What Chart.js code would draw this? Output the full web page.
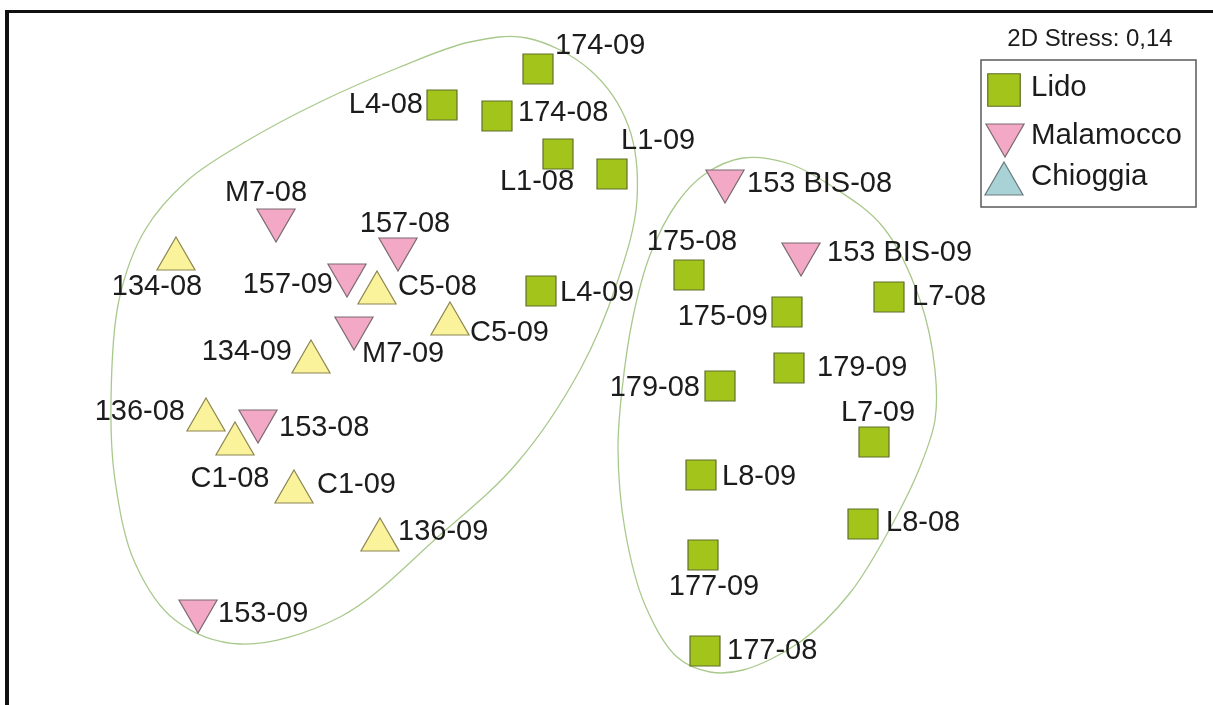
<!DOCTYPE html>
<html>
<head>
<meta charset="utf-8">
<title>nMDS – Lido, Malamocco, Chioggia</title>
<script src="https://cdn.jsdelivr.net/npm/chart.js@4.4.1/dist/chart.umd.min.js"></script>
<style>
  html, body { margin: 0; padding: 0; background: #ffffff; }
  canvas { display: block; }
</style>
</head>
<body>
<canvas id="mds" width="1213" height="705"></canvas>
<script>
// nMDS ordination (2D) of station samples, 2008 and 2009 surveys

// Lido inlet
const lidoNames = ['174-09', 'L4-08', '174-08', 'L1-08', 'L1-09', 'L4-09', '175-08', '175-09',
                   'L7-08', '179-09', '179-08', 'L7-09', 'L8-09', 'L8-08', '177-09', '177-08'];
const lidoX = [-0.62, -1.58, -1.03, -0.42, 0.12, -0.59, 0.89, 1.87, 2.89, 1.89, 1.20, 2.74, 1.01, 2.63, 1.03, 1.05];
const lidoY = [2.81, 2.45, 2.34, 1.96, 1.76, 0.59, 0.75, 0.38, 0.53, -0.18, -0.36, -0.92, -1.25, -1.74, -2.05, -3.01];

// Malamocco inlet
const malamoccoNames = ['153 BIS-08', '153 BIS-09', 'M7-08', '157-08', '157-09', 'M7-09', '153-08', '153-09'];
const malamoccoX = [1.25, 2.01, -3.24, -2.02, -2.53, -2.46, -3.42, -4.02];
const malamoccoY = [1.69, 0.96, 1.30, 1.01, 0.75, 0.22, -0.71, -2.61];

// Chioggia inlet
const chioggiaNames = ['134-08', 'C5-08', 'C5-09', '134-09', '136-08', 'C1-08', 'C1-09', '136-09'];
const chioggiaX = [-4.24, -2.23, -1.50, -2.89, -3.94, -3.65, -3.06, -2.20];
const chioggiaY = [0.91, 0.57, 0.26, -0.12, -0.70, -0.94, -1.42, -1.90];

// Hand-drawn group envelopes (closed outlines, ordination units)
const envelopeAX = [-0.73, -0.10, 0.28, 0.37, 0.17, -0.20, -0.83, -1.60, -2.60, -3.60, -4.25,
                    -4.65, -4.85, -4.89, -4.81, -4.55, -4.12, -3.55, -2.80, -2.00, -1.30];
const envelopeAY = [3.12, 2.80, 2.25, 1.50, 0.67, -0.20, -1.13, -1.85, -2.67, -2.94, -2.70,
                    -2.13, -1.30, -0.50, 0.50, 1.20, 1.70, 2.08, 2.48, 2.83, 3.08];
const envelopeBX = [1.43, 1.87, 2.33, 2.83, 3.20, 3.35, 3.35, 3.20, 2.93, 2.50, 2.00,
                    1.43, 1.10, 0.77, 0.45, 0.25, 0.18, 0.22, 0.33, 0.50, 0.77, 1.05];
const envelopeBY = [1.92, 1.87, 1.63, 1.23, 0.50, -0.20, -0.70, -1.17, -1.73, -2.43, -2.92,
                    -3.20, -3.22, -3.07, -2.55, -1.80, -1.00, -0.40, 0.33, 0.95, 1.47, 1.76];

const stressLabel = '2D Stress: 0,14';
const seriesNames = ['Lido', 'Malamocco', 'Chioggia'];

function toPoints(xs, ys, names) {
  return xs.map((x, i) => ({ x: x, y: ys[i], name: names[i] }));
}

// label anchor: [textAlign, dx, dy] in pixels from the marker centre
const labelAnchor = {
  '174-09': ['left', 17, -23], 'L4-08': ['right', -19, 0], '174-08': ['left', 21, -3],
  'L1-08': ['center', -21, 28], 'L1-09': ['left', 9, -33], 'L4-09': ['left', 19, 2],
  '175-08': ['center', 3, -33], '175-09': ['right', -19, 5], 'L7-08': ['left', 23, 0],
  '179-09': ['left', 28, 0], '179-08': ['right', -20, 2], 'L7-09': ['center', 4, -29],
  'L8-09': ['left', 21, 2], 'L8-08': ['left', 23, -1], '177-09': ['center', 11, 32],
  '177-08': ['left', 22, 0],
  '153 BIS-08': ['left', 22, 3], '153 BIS-09': ['left', 26, -1], 'M7-08': ['center', -10, -27],
  '157-08': ['center', 7, -25], '157-09': ['right', -14, 10], 'M7-09': ['left', 8, 26],
  '153-08': ['left', 21, 7], '153-09': ['left', 20, 3],
  '134-08': ['center', -19, 28], 'C5-08': ['left', 21, -6], 'C5-09': ['left', 20, 9],
  '134-09': ['right', -19, -10], '136-08': ['right', -21, -8], 'C1-08': ['center', -5, 35],
  'C1-09': ['left', 23, -7], '136-09': ['left', 18, -8]
};

const TEXT = '#1c1c1c';
const FONT = '"Liberation Sans", Arial, Helvetica, sans-serif';

// closed centripetal Catmull-Rom outline through the envelope vertices
function strokeClosedCurve(ctx, pts) {
  const n = pts.length;
  const dist = (a, b) => Math.max(1e-6, Math.hypot(b[0] - a[0], b[1] - a[1]));
  ctx.beginPath();
  ctx.moveTo(pts[0][0], pts[0][1]);
  for (let i = 0; i < n; i++) {
    const p0 = pts[(i - 1 + n) % n], p1 = pts[i], p2 = pts[(i + 1) % n], p3 = pts[(i + 2) % n];
    const l1 = dist(p0, p1), l2 = dist(p1, p2), l3 = dist(p2, p3);
    const d1 = Math.sqrt(l1), d2 = Math.sqrt(l2), d3 = Math.sqrt(l3);
    const c1 = [0, 1].map(k => (l1 * p2[k] - l2 * p0[k] + (2 * l1 + 3 * d1 * d2 + l2) * p1[k]) / (3 * d1 * (d1 + d2)));
    const c2 = [0, 1].map(k => (l3 * p1[k] - l2 * p3[k] + (2 * l3 + 3 * d3 * d2 + l2) * p2[k]) / (3 * d3 * (d3 + d2)));
    ctx.bezierCurveTo(c1[0], c1[1], c2[0], c2[1], p2[0], p2[1]);
  }
  ctx.closePath();
  ctx.stroke();
}

const envelopePlugin = {
  id: 'envelopes',
  beforeDatasetsDraw(chart) {
    const { ctx, scales } = chart;
    const sx = scales.x, sy = scales.y;
    ctx.save();
    ctx.strokeStyle = '#a9c98c';
    ctx.lineWidth = 1.3;
    [[envelopeAX, envelopeAY], [envelopeBX, envelopeBY]].forEach(([xs, ys]) => {
      const pts = xs.map((x, i) => [sx.getPixelForValue(x), sy.getPixelForValue(ys[i])]);
      strokeClosedCurve(ctx, pts);
    });
    ctx.restore();
  }
};

const labelPlugin = {
  id: 'pointLabels',
  afterDatasetsDraw(chart) {
    const ctx = chart.ctx;
    ctx.save();
    ctx.fillStyle = TEXT;
    ctx.font = '29px ' + FONT;
    ctx.textBaseline = 'middle';
    chart.data.datasets.forEach((ds, di) => {
      const meta = chart.getDatasetMeta(di);
      meta.data.forEach((el, i) => {
        const name = ds.data[i].name;
        const a = labelAnchor[name] || ['left', 20, 0];
        ctx.textAlign = a[0];
        ctx.fillText(name, el.x + a[1], el.y + a[2]);
      });
    });
    ctx.restore();
  }
};

const framePlugin = {
  id: 'frameAndKey',
  afterDraw(chart) {
    const ctx = chart.ctx;
    const W = chart.width, H = chart.height;
    ctx.save();
    // outer frame (top and left rules)
    ctx.fillStyle = '#111111';
    ctx.fillRect(5, 10, W - 5, 3);
    ctx.fillRect(5, 10, 4, H - 10);

    // stress value
    ctx.fillStyle = TEXT;
    ctx.font = '24px ' + FONT;
    ctx.textAlign = 'center';
    ctx.textBaseline = 'middle';
    ctx.fillText(stressLabel, 1090, 39);

    // key box
    ctx.strokeStyle = '#5a5a5a';
    ctx.lineWidth = 1.5;
    ctx.strokeRect(981, 60, 215, 147);

    const swatches = [
      { style: 'rect', rot: 0, r: 23, fill: '#a3c51b', line: '#5f6e2c', x: 1004, y: 90 },
      { style: 'triangle', rot: 180, r: 22, fill: '#f3a9c5', line: '#7a6a70', x: 1005, y: 135 },
      { style: 'triangle', rot: 0, r: 22, fill: '#a9d2d6', line: '#6a7a7c', x: 1004, y: 184 }
    ];
    const textY = [88, 136, 177];
    ctx.font = '29.5px ' + FONT;
    ctx.textAlign = 'left';
    swatches.forEach((s, i) => {
      ctx.fillStyle = s.fill;
      ctx.strokeStyle = s.line;
      ctx.lineWidth = 1.2;
      Chart.helpers.drawPoint(ctx, { pointStyle: s.style, rotation: s.rot, radius: s.r, borderWidth: 1.2 }, s.x, s.y);
      ctx.fillStyle = TEXT;
      ctx.fillText(seriesNames[i], 1031, textY[i]);
    });
    ctx.restore();
  }
};

new Chart(document.getElementById('mds'), {
  type: 'scatter',
  data: {
    datasets: [
      {
        label: seriesNames[0],
        data: toPoints(lidoX, lidoY, lidoNames),
        pointStyle: 'rect',
        pointRadius: 21.2,
        backgroundColor: '#a3c51b',
        borderColor: '#5f6e2c',
        borderWidth: 1.2
      },
      {
        label: seriesNames[1],
        data: toPoints(malamoccoX, malamoccoY, malamoccoNames),
        pointStyle: 'triangle',
        pointRotation: 180,
        pointRadius: 22,
        backgroundColor: '#f3a9c5',
        borderColor: '#7a6a70',
        borderWidth: 1.2
      },
      {
        label: seriesNames[2],
        data: toPoints(chioggiaX, chioggiaY, chioggiaNames),
        pointStyle: 'triangle',
        pointRadius: 22,
        backgroundColor: '#fbf39c',
        borderColor: '#8c8650',
        borderWidth: 1.2
      }
    ]
  },
  options: {
    responsive: false,
    animation: false,
    events: [],
    layout: { padding: 0, autoPadding: false },
    scales: {
      x: { type: 'linear', min: -6.00, max: 6.13, display: false },
      y: { type: 'linear', min: -3.55, max: 3.50, display: false }
    },
    plugins: {
      legend: { display: false },
      tooltip: { enabled: false }
    }
  },
  plugins: [envelopePlugin, labelPlugin, framePlugin]
});
</script>
</body>
</html>
